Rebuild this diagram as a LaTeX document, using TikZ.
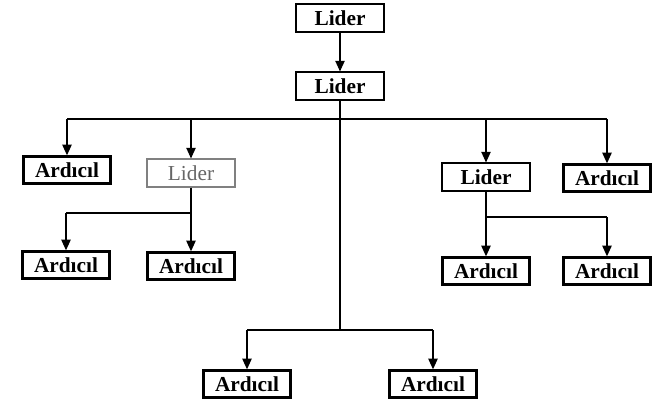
\documentclass[tikz,border=0pt]{standalone}
\usepackage{fontspec}
\setmainfont{Liberation Serif}
\usetikzlibrary{arrows.meta, positioning}

\begin{document}
\begin{tikzpicture}[
	  x=0.75pt, y=-0.75pt,
	  lider/.style={rectangle, minimum width=66pt, minimum height=21pt, inner sep=0pt, text centered, draw=black, line width=0.8pt, font=\fontsize{16}{19}\selectfont\bfseries},
	  lidergri/.style={lider, draw=black!50, text=black!60, font=\fontsize{16}{19}\selectfont},
	  ardicil/.style={rectangle, minimum width=65pt, minimum height=20pt, inner sep=0pt, text centered, draw=black, line width=2pt, font=\fontsize{16}{19}\selectfont\bfseries},
	  arrow/.style={line width=1pt, -{Triangle[length=8pt, width=7pt]}},
	  line/.style={line width=1pt}
	]

	\useasboundingbox (0,0) rectangle (653,403);

	\node (lider1) [lider] at (340,18) {Lider};
	\node (lider2) [lider] at (340,86) {Lider};
	\node (ard1) [ardicil] at (67,170) {Ardıcıl};
	\node (lider3) [lidergri] at (191,173) {Lider};
	\node (lider4) [lider] at (486,177) {Lider};
	\node (ard2) [ardicil] at (607,178) {Ardıcıl};
	\node (ard3) [ardicil] at (66,265) {Ardıcıl};
	\node (ard4) [ardicil] at (191,266) {Ardıcıl};
	\node (ard5) [ardicil] at (486,271) {Ardıcıl};
	\node (ard6) [ardicil] at (607,271) {Ardıcıl};
	\node (ard7) [ardicil] at (247,384) {Ardıcıl};
	\node (ard8) [ardicil] at (433,384) {Ardıcıl};

	\coordinate (ust) at (340,119);
	\coordinate (alt) at (340,330);
	\coordinate (sol) at (191,213);
	\coordinate (sag) at (486,217);

	\draw [arrow] (lider1) -- (lider2);
	\draw [line] (lider2) -- (alt);
	\draw [line] (ard1 |- ust) -- (ard2 |- ust);
	\draw [arrow] (ard1 |- ust) -- (ard1);
	\draw [arrow] (lider3 |- ust) -- (lider3);
	\draw [arrow] (lider4 |- ust) -- (lider4);
	\draw [arrow] (ard2 |- ust) -- (ard2);

	\draw [line] (lider3) -- (sol);
	\draw [line] (ard3 |- sol) -- (sol);
	\draw [arrow] (ard3 |- sol) -- (ard3);
	\draw [arrow] (sol) -- (ard4);

	\draw [line] (lider4) -- (sag);
	\draw [line] (sag) -- (ard6 |- sag);
	\draw [arrow] (sag) -- (ard5);
	\draw [arrow] (ard6 |- sag) -- (ard6);

	\draw [line] (ard7 |- alt) -- (ard8 |- alt);
	\draw [arrow] (ard7 |- alt) -- (ard7);
	\draw [arrow] (ard8 |- alt) -- (ard8);

\end{tikzpicture}
\end{document}
